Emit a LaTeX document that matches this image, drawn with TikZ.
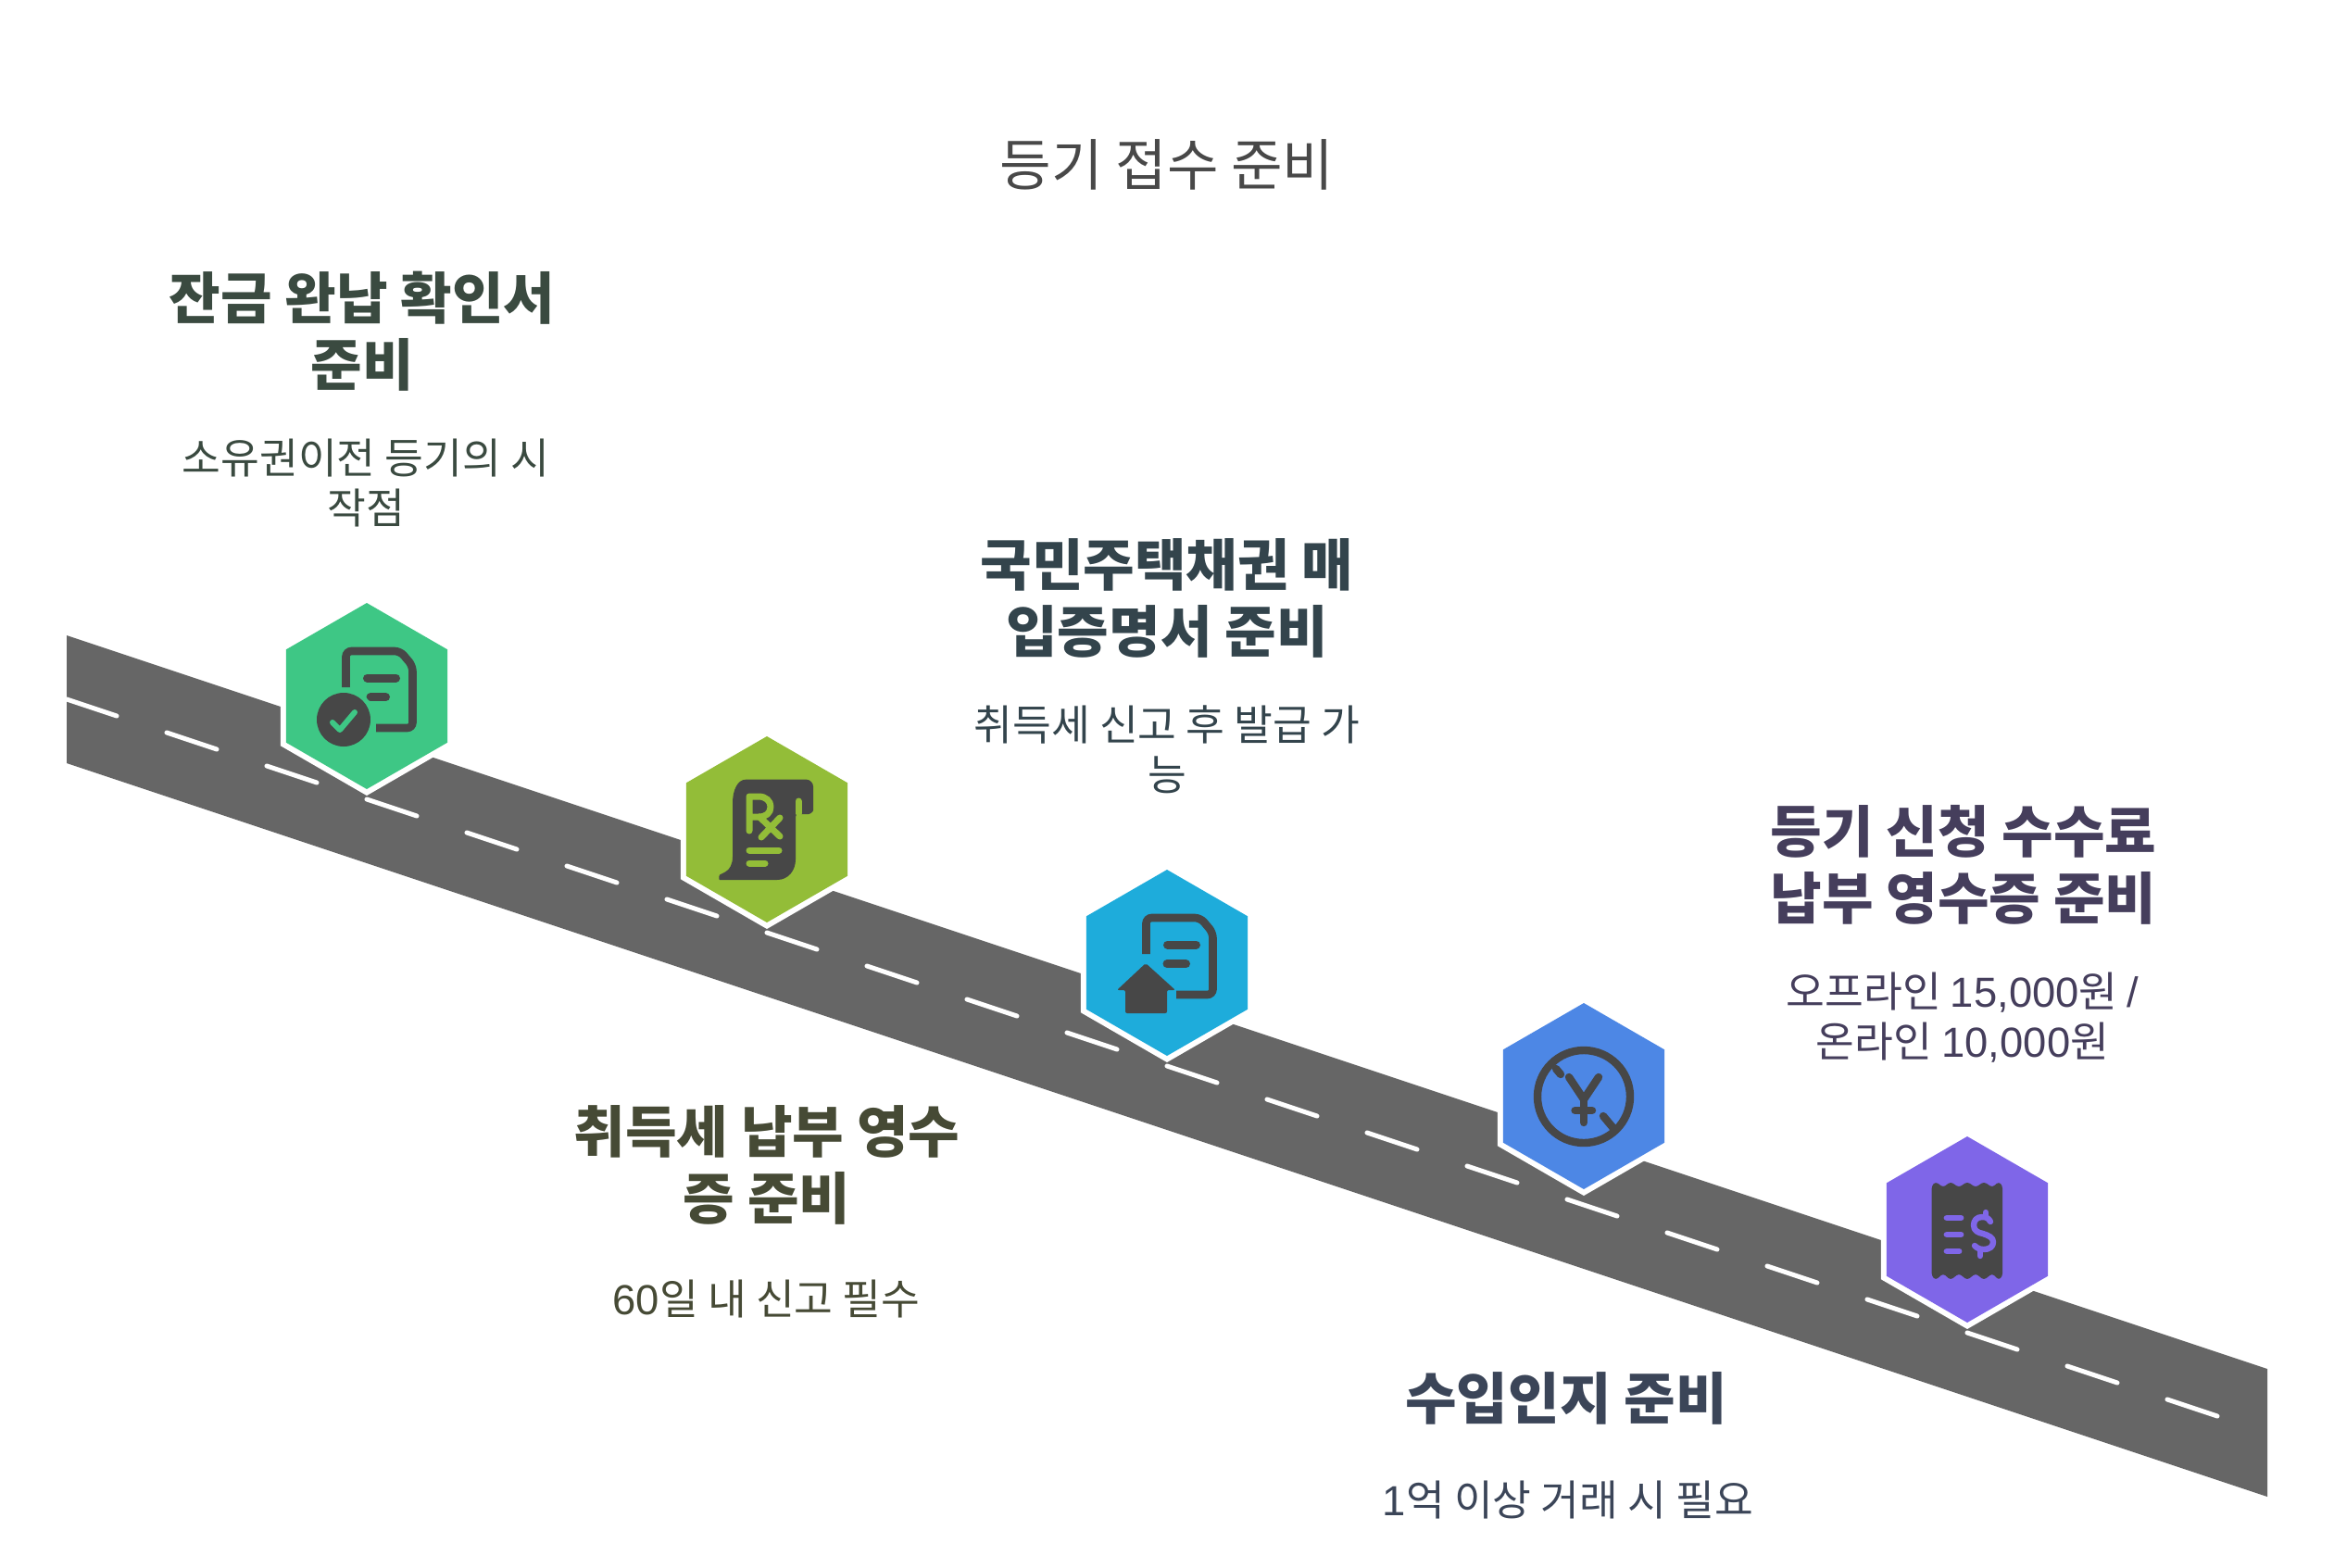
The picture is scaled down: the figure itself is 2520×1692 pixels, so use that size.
\documentclass[tikz,border=0pt]{standalone}
\usepackage{fontspec}
\setmainfont{Noto Sans CJK KR}
\newfontfamily\digitfont{Liberation Sans}
\usetikzlibrary{shapes.geometric}
\definecolor{roadc}{HTML}{666666}
\definecolor{iconc}{HTML}{474747}
\definecolor{hexa}{HTML}{3EC785}
\definecolor{hexb}{HTML}{93BD38}
\definecolor{hexc}{HTML}{1EACDB}
\definecolor{hexd}{HTML}{4D87E5}
\definecolor{hexe}{HTML}{7F66E8}
\definecolor{txta}{HTML}{3A4A40}
\definecolor{txtb}{HTML}{464A35}
\definecolor{txtc}{HTML}{33444C}
\definecolor{txtd}{HTML}{3B4558}
\definecolor{txte}{HTML}{453E5C}
\definecolor{txtt}{HTML}{484848}
\tikzset{
  x=0.5pt,y=-0.5pt,
  hexhalo/.style={regular polygon,regular polygon sides=6,shape border rotate=30,inner sep=0pt,outer sep=0pt,minimum size=107.5pt,fill=white},
  hexbox/.style={regular polygon,regular polygon sides=6,shape border rotate=30,inner sep=0pt,outer sep=0pt,minimum size=100.5pt,fill=#1},
  headtxt/.style={anchor=center,align=center,inner sep=0pt,text=#1,font=\fontsize{30.2pt}{36pt}\selectfont\bfseries},
  bodytxt/.style={anchor=center,align=center,inner sep=0pt,text=#1,font=\fontsize{22.7pt}{27pt}\selectfont},
  titletxt/.style={anchor=center,inner sep=0pt,text=txtt,font=\fontsize{30.2pt}{36pt}\selectfont},
  roaddash/.style={draw=white,line width=2.5pt,line cap=round,dash pattern=on 28.46pt off 28.46pt},
  iconline/.style={draw=#1,line cap=round,line join=round},
}
\newcommand{\docicon}{%
  \draw[draw=iconc,line width=4.3pt,rounded corners=3pt] (373.5,742) -- (373.5,703) -- (432,703) -- (445.5,719) -- (445.5,786) -- (406,786);
}
\begin{document}
\begin{tikzpicture}
\useasboundingbox (0,0) rectangle (2520,1692);
% road
\coordinate (roadTL) at (72,686);
\coordinate (roadTR) at (2448,1478);
\coordinate (roadBR) at (2448,1616);
\coordinate (roadBL) at (72,824);
\coordinate (lineA) at (72,755);
\coordinate (lineB) at (2400,1531);
\fill[roadc] (roadTL) -- (roadTR) -- (roadBR) -- (roadBL) -- cycle;
\begin{scope}
  \clip (roadTL) -- (roadTR) -- (roadBR) -- (roadBL) -- cycle;
  \draw[roaddash] (lineA) -- (lineB);
\end{scope}
% hexagons
\node[hexhalo] (haloA) at (396,751.5) {};
\node[hexbox=hexa] (hexA) at (396,751.5) {};
\node[hexhalo] (haloB) at (828,895.5) {};
\node[hexbox=hexb] (hexB) at (828,895.5) {};
\node[hexhalo] (haloC) at (1260,1039.5) {};
\node[hexbox=hexc] (hexC) at (1260,1039.5) {};
\node[hexhalo] (haloD) at (1710,1183.5) {};
\node[hexbox=hexd] (hexD) at (1710,1183.5) {};
\node[hexhalo] (haloE) at (2124,1327.5) {};
\node[hexbox=hexe] (hexE) at (2124,1327.5) {};
% icon A: document with check
\docicon
\draw[iconline=iconc,line width=4.5pt] (396.5,732) -- (427.5,732);
\draw[iconline=iconc,line width=4.5pt] (400,752.7) -- (416.5,752.7);
\fill[hexa] (371,777) circle[radius=34];
\fill[iconc] (371,777) circle[radius=29];
\draw[iconline=hexa,line width=3pt] (359,780) -- (367,788) -- (383,769);
% icon B: prescription scroll
\fill[iconc,rounded corners=1.5pt] (791,870) .. controls (791,852) and (797,841.7) .. (808,841.7) -- (868,841.7)
  .. controls (875,841.7) and (878,846) .. (878,852) -- (878,872) .. controls (878,876) and (875,879) .. (870,879) -- (859,879)
  -- (859,925) .. controls (859,940) and (851,950) .. (836,950) -- (780,950) .. controls (776,950) and (776,945) .. (780,943)
  .. controls (788,939) and (791,933) .. (791,922) -- cycle;
\draw[iconline=hexb,line width=3.5pt] (862,865) -- (862,878);
\draw[iconline=hexb,line width=3.5pt] (809,897) -- (809,860) -- (819,860) .. controls (827,860) and (832,865) .. (832,871) .. controls (832,878) and (827,882) .. (819,882) -- (811,882);
\draw[iconline=hexb,line width=3.5pt] (820,882) -- (842,903);
\draw[iconline=hexb,line width=3.5pt] (842,883) -- (822,904);
\draw[iconline=hexb,line width=3.5pt] (809,918) -- (841,918);
\draw[iconline=hexb,line width=3.5pt] (809,932) -- (826,932);
% icon C: document with house
\begin{scope}[shift={(864,288)}]
  \docicon
  \draw[iconline=iconc,line width=4.5pt] (396.5,732) -- (427.5,732);
  \draw[iconline=iconc,line width=4.5pt] (396,752.7) -- (416.5,752.7);
\end{scope}
\fill[iconc,rounded corners=1pt] (1237,1040) -- (1269,1069) -- (1260,1069) -- (1260,1094) -- (1215,1094) -- (1215,1069) -- (1206,1069) -- cycle;
% icon D: crossed-out yen
\draw[draw=iconc,line width=4.2pt] (1710,1184) circle[radius=50];
\draw[iconline=iconc,line width=4.2pt] (1680,1154) -- (1685,1160);
\draw[iconline=iconc,line width=4.2pt] (1731,1205) -- (1741,1217);
\draw[iconline=iconc,line width=4.2pt] (1694,1163) -- (1710,1187) -- (1726,1163);
\draw[iconline=iconc,line width=4.2pt] (1710,1187) -- (1710,1212);
\draw[iconline=iconc,line width=4.2pt] (1700.5,1199) -- (1719,1199);
% icon E: receipt with dollar
\fill[iconc,rounded corners=1.5pt] (2085.7,1280) -- (2090,1276) -- (2098,1282) -- (2106,1276) -- (2115,1282) -- (2124,1276) -- (2133,1282) -- (2142,1276) -- (2151,1282) -- (2158,1276) -- (2162,1280)
  -- (2162,1378) -- (2158,1382) -- (2151,1375) -- (2142,1382) -- (2133,1375) -- (2124,1382) -- (2115,1375) -- (2106,1382) -- (2098,1375) -- (2090,1382) -- (2085.7,1378) -- cycle;
\draw[iconline=hexe,line width=3.4pt] (2102,1315) -- (2117,1315);
\draw[iconline=hexe,line width=3.4pt] (2102,1333) -- (2117,1333);
\draw[iconline=hexe,line width=3.4pt] (2102,1351) -- (2115,1351);
\draw[iconline=hexe,line width=3.2pt] (2149,1319) .. controls (2147,1315) and (2144,1314) .. (2140,1314) .. controls (2134,1314) and (2131,1318) .. (2131,1323) .. controls (2131,1329) and (2136,1331) .. (2141,1332) .. controls (2147,1334) and (2152,1336) .. (2152,1341) .. controls (2152,1346) and (2148,1349) .. (2142,1349) .. controls (2138,1349) and (2135,1348) .. (2132,1345);
\draw[iconline=hexe,line width=3.2pt] (2144,1309) -- (2144,1314);
\draw[iconline=hexe,line width=3.2pt] (2138,1349) -- (2138,1356);
% texts
\node[titletxt] (title) at (1260,178) {등기 접수 준비};
\node[headtxt=txta] (headA) at (391,358) {잔금 완납 확인서\\준비};
\node[bodytxt=txta] (bodyA) at (395,521) {소유권이전 등기의 시\\작점};
\node[headtxt=txtc] (headC) at (1260,646) {국민주택채권 매\\입증명서 준비};
\node[bodytxt=txtc] (bodyC) at (1260,809) {취득세 신고 후 발급 가\\능};
\node[headtxt=txtb] (headB) at (828,1258) {취득세 납부 영수\\증 준비};
\node[bodytxt=txtb] (bodyB) at (827.5,1402.5) {{\digitfont 60}일 내 신고 필수};
\node[headtxt=txtd] (headD) at (1691,1510) {수입인지 준비};
\node[bodytxt=txtd] (bodyD) at (1693,1619) {{\digitfont 1}억 이상 거래 시 필요};
\node[headtxt=txte] (headE) at (2120,934) {등기 신청 수수료\\납부 영수증 준비};
\node[bodytxt=txte] (bodyE) at (2119,1099) {오프라인 {\digitfont 15,000}원 {\digitfont /}\\온라인 {\digitfont 10,000}원};
\end{tikzpicture}
\end{document}
